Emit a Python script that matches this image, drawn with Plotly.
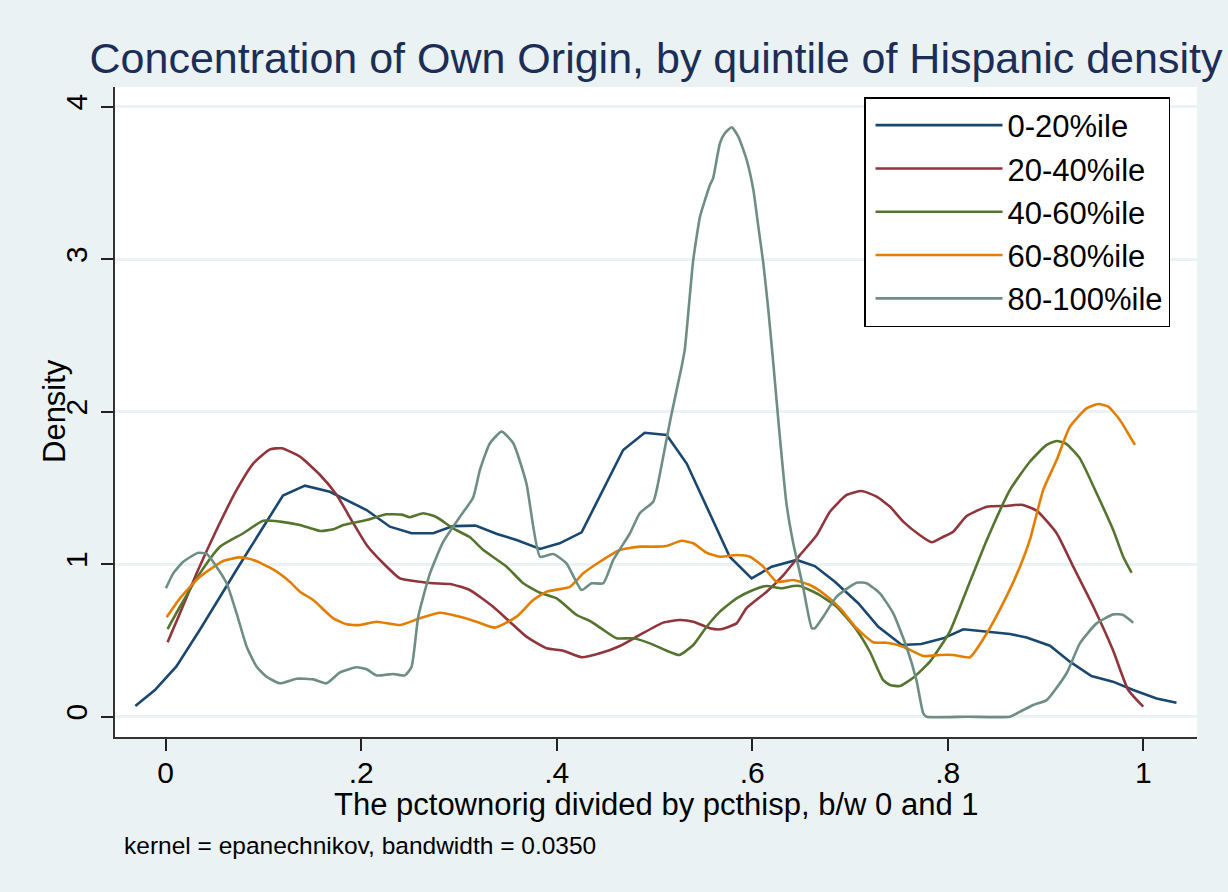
import plotly.graph_objects as go

# ---------------- data ----------------
series_names = ["0-20%ile", "20-40%ile", "40-60%ile", "60-80%ile", "80-100%ile"]

q1_x = [-0.031, -0.011, 0.011, 0.035, 0.076, 0.120, 0.1425, 0.168, 0.2056, 0.2294, 0.2516, 0.2737,
        0.294, 0.317, 0.339, 0.359, 0.383, 0.403, 0.4255, 0.4477, 0.468, 0.490, 0.5125, 0.533,
        0.553, 0.577, 0.5994, 0.620, 0.6455, 0.664, 0.6846, 0.7085, 0.729, 0.753, 0.773, 0.7955,
        0.816, 0.840, 0.8637, 0.8807, 0.9046, 0.925, 0.947, 0.969, 0.9898, 1.0137, 1.034]
q1_y = [0.07, 0.175, 0.33, 0.57, 1.0, 1.45, 1.515, 1.475, 1.355, 1.246, 1.203, 1.203,
        1.25, 1.253, 1.198, 1.159, 1.10, 1.137, 1.209, 1.487, 1.749, 1.862, 1.847, 1.66,
        1.377, 1.049, 0.907, 0.984, 1.028, 0.988, 0.885, 0.744, 0.59, 0.47, 0.477, 0.514,
        0.573, 0.557, 0.542, 0.52, 0.466, 0.361, 0.267, 0.23, 0.175, 0.12, 0.092]

q2_x = [0.002, 0.0146, 0.0317, 0.052, 0.0726, 0.0896, 0.1067, 0.1186, 0.1374, 0.158, 0.175, 0.192,
        0.2056, 0.2226, 0.2397, 0.260, 0.2737, 0.291, 0.311, 0.335, 0.352, 0.369, 0.3897, 0.4067,
        0.4255, 0.4442, 0.4647, 0.485, 0.509, 0.526, 0.5397, 0.5568, 0.567, 0.584, 0.594, 0.6148,
        0.632, 0.6488, 0.666, 0.6795, 0.6966, 0.712, 0.7273, 0.741, 0.7545, 0.7716, 0.7836, 0.7955,
        0.8056, 0.8194, 0.840, 0.860, 0.8756, 0.891, 0.9114, 0.9284, 0.949, 0.969, 0.9847, 1.0]
q2_y = [0.488, 0.678, 0.94, 1.224, 1.487, 1.66, 1.753, 1.76, 1.705, 1.585, 1.454, 1.268,
        1.126, 1.006, 0.907, 0.885, 0.875, 0.87, 0.831, 0.721, 0.623, 0.525, 0.449, 0.433,
        0.39, 0.416, 0.464, 0.536, 0.617, 0.634, 0.623, 0.58, 0.573, 0.612, 0.711, 0.82,
        0.929, 1.06, 1.19, 1.344, 1.454, 1.48, 1.443, 1.377, 1.279, 1.19, 1.144, 1.18,
        1.213, 1.316, 1.377, 1.382, 1.39, 1.351, 1.203, 0.984, 0.721, 0.437, 0.175, 0.066]

q3_x = [0.002, 0.0146, 0.035, 0.0556, 0.0794, 0.0998, 0.117, 0.1374, 0.158, 0.1715, 0.1817, 0.2056,
        0.226, 0.2414, 0.2499, 0.2635, 0.2772, 0.294, 0.311, 0.325, 0.3488, 0.3658, 0.383, 0.400,
        0.4204, 0.434, 0.4477, 0.4613, 0.4783, 0.4954, 0.5125, 0.5254, 0.5397, 0.5534, 0.567, 0.584,
        0.601, 0.6148, 0.630, 0.642, 0.6488, 0.669, 0.6864, 0.7068, 0.7204, 0.734, 0.741, 0.751,
        0.7647, 0.7818, 0.802, 0.8194, 0.840, 0.8637, 0.884, 0.9012, 0.9114, 0.9216, 0.9352, 0.9523,
        0.9693, 0.9795, 0.9881]
q3_y = [0.575, 0.721, 0.94, 1.115, 1.203, 1.285, 1.279, 1.257, 1.218, 1.229, 1.257, 1.29,
        1.327, 1.325, 1.308, 1.334, 1.308, 1.235, 1.178, 1.093, 0.984, 0.875, 0.813, 0.776,
        0.667, 0.628, 0.569, 0.514, 0.514, 0.481, 0.433, 0.405, 0.47, 0.59, 0.689, 0.776,
        0.831, 0.857, 0.842, 0.857, 0.857, 0.798, 0.721, 0.569, 0.426, 0.24, 0.208, 0.201,
        0.256, 0.361, 0.557, 0.831, 1.159, 1.487, 1.672, 1.782, 1.808, 1.788, 1.694, 1.465,
        1.224, 1.049, 0.944]

q4_x = [0.001, 0.0146, 0.035, 0.0589, 0.076, 0.0896, 0.110, 0.127, 0.1374, 0.151, 0.1715, 0.185,
        0.1988, 0.2158, 0.2397, 0.260, 0.2806, 0.301, 0.318, 0.3369, 0.359, 0.376, 0.3897, 0.4136,
        0.4272, 0.4442, 0.4647, 0.485, 0.4988, 0.5125, 0.5278, 0.5397, 0.5534, 0.567, 0.584, 0.5977,
        0.6113, 0.625, 0.642, 0.659, 0.6727, 0.690, 0.7068, 0.7238, 0.7375, 0.7545, 0.775, 0.792,
        0.8056, 0.8227, 0.840, 0.860, 0.8739, 0.884, 0.8977, 0.9114, 0.925, 0.942, 0.954, 0.9642,
        0.9761, 0.9915]
q4_y = [0.652, 0.776, 0.918, 1.021, 1.045, 1.028, 0.966, 0.885, 0.82, 0.765, 0.645, 0.606,
        0.601, 0.623, 0.601, 0.645, 0.682, 0.656, 0.623, 0.584, 0.656, 0.765, 0.82, 0.852,
        0.94, 1.016, 1.093, 1.115, 1.115, 1.12, 1.154, 1.137, 1.075, 1.049, 1.06, 1.049,
        0.984, 0.885, 0.896, 0.864, 0.809, 0.711, 0.58, 0.488, 0.485, 0.459, 0.398, 0.405,
        0.405, 0.39, 0.547, 0.787, 0.984, 1.159, 1.487, 1.683, 1.902, 2.022, 2.05, 2.033,
        1.946, 1.782]

q5_x = [0.0003, 0.0078, 0.018, 0.0334, 0.042, 0.052, 0.0624, 0.0726, 0.0829, 0.0931, 0.1033, 0.117,
        0.134, 0.151, 0.1647, 0.178, 0.1954, 0.2056, 0.2158, 0.2328, 0.2448, 0.2516, 0.2584, 0.2704,
        0.284, 0.301, 0.3146, 0.3215, 0.3317, 0.3437, 0.3556, 0.369, 0.383, 0.3965, 0.410, 0.4255,
        0.4357, 0.4477, 0.4579, 0.475, 0.485, 0.4988, 0.5023, 0.5166, 0.5278, 0.531, 0.5364, 0.5397,
        0.5466, 0.5517, 0.5568, 0.560, 0.567, 0.572, 0.579, 0.5858, 0.5944, 0.6012, 0.6063, 0.6114,
        0.6165, 0.6216, 0.6267, 0.635, 0.642, 0.652, 0.661, 0.664, 0.6727, 0.6864, 0.7068, 0.717,
        0.7306, 0.7443, 0.7578, 0.768, 0.775, 0.7784, 0.82, 0.8637, 0.8739, 0.8875, 0.9012, 0.9216,
        0.9352, 0.9523, 0.9693, 0.9795, 0.9898]
q5_y = [0.842, 0.94, 1.016, 1.075, 1.067, 0.984, 0.875, 0.678, 0.459, 0.328, 0.262, 0.219,
        0.249, 0.245, 0.219, 0.289, 0.324, 0.311, 0.271, 0.28, 0.271, 0.328, 0.656, 0.94,
        1.148, 1.311, 1.438, 1.618, 1.793, 1.869, 1.793, 1.531, 1.049, 1.067, 1.006, 0.831,
        0.875, 0.875, 1.028, 1.203, 1.334, 1.41, 1.487, 1.957, 2.295, 2.405, 2.776, 2.995,
        3.279, 3.388, 3.487, 3.53, 3.76, 3.826, 3.865, 3.803, 3.65, 3.454, 3.213, 2.973,
        2.667, 2.317, 1.946, 1.40, 1.137, 0.852, 0.58, 0.58, 0.656, 0.787, 0.879, 0.875,
        0.809, 0.678, 0.459, 0.24, 0.022, 0.0, 0.0, 0.0, 0.033, 0.077, 0.109, 0.285,
        0.481, 0.612, 0.671, 0.667, 0.616]

x_tickvals = [0, 0.2, 0.4, 0.6, 0.8, 1.0]
x_ticktext = ["0", ".2", ".4", ".6", ".8", "1"]
y_tickvals = [0, 1, 2, 3, 4]
y_ticktext = ["0", "1", "2", "3", "4"]

title_text = "Concentration of Own Origin, by quintile of Hispanic density"
x_title = "The pctownorig divided by pcthisp, b/w 0 and 1"
y_title = "Density"
note_text = "kernel = epanechnikov, bandwidth = 0.0350"

# ---------------- styling ----------------
colors = ["#1A476F", "#90353B", "#55752F", "#E37E00", "#6E8E84"]
line_shapes = ["linear", "spline", "spline", "spline", "spline"]
BG = "#EAF2F3"
FONT = "Liberation Sans, Arial, Helvetica, sans-serif"

W, H = 1228, 892
L, R, T, B = 115, 31, 87, 155
pw, ph = W - L - R, H - T - B

fig = go.Figure()
all_x = [q1_x, q2_x, q3_x, q4_x, q5_x]
all_y = [q1_y, q2_y, q3_y, q4_y, q5_y]
for name, xs, ys, c, shp in zip(series_names, all_x, all_y, colors, line_shapes):
    fig.add_trace(go.Scatter(x=xs, y=ys, mode="lines", name=name,
                             line=dict(color=c, width=2.6, shape=shp, smoothing=0.5)))

fig.update_layout(
    width=W, height=H,
    margin=dict(l=L, r=R, t=T, b=B, pad=0),
    paper_bgcolor=BG, plot_bgcolor="white",
    font=dict(family=FONT, color="black"),
    title=dict(text=title_text, x=0.5, xref="paper", xanchor="center",
               y=1 - 58 / H, yref="container", yanchor="middle",
               font=dict(size=43, color="#1C2D57", family=FONT)),
    showlegend=True,
    legend=dict(x=(864 - L) / pw, y=(H - B - 97) / ph, xanchor="left", yanchor="top",
                bgcolor="white", bordercolor="black", borderwidth=1.5,
                font=dict(size=31, color="black", family=FONT),
                itemwidth=127, indentation=5, tracegroupgap=0),
    xaxis=dict(range=[-0.0518, 1.055], tickvals=x_tickvals, ticktext=x_ticktext,
               ticks="outside", ticklen=12, tickwidth=1.5, tickcolor="#222",
               showline=True, linecolor="#333", linewidth=1.5, mirror=False,
               showgrid=False, zeroline=False, ticklabelstandoff=-4,
               tickfont=dict(size=30, color="black", family=FONT)),
    yaxis=dict(range=[-0.133, 4.129], tickvals=y_tickvals, ticktext=y_ticktext,
               tickangle=-90,
               ticks="outside", ticklen=12, tickwidth=1.5, tickcolor="#222",
               showline=True, linecolor="#333", linewidth=1.5, mirror=False,
               showgrid=True, gridcolor=BG, gridwidth=2.5, zeroline=False,
               ticklabelstandoff=2,
               tickfont=dict(size=30, color="black", family=FONT)),
    annotations=[
        dict(text=x_title, xref="paper", yref="paper", x=0.5, y=(H - B - 804) / ph,
             xanchor="center", yanchor="middle", showarrow=False,
             font=dict(size=31, color="black", family=FONT)),
        dict(text=y_title, xref="paper", yref="paper", x=(54 - L) / pw, y=(H - B - 411) / ph,
             xanchor="center", yanchor="middle", textangle=-90, showarrow=False,
             font=dict(size=31, color="black", family=FONT)),
        dict(text=note_text, xref="paper", yref="paper", x=(122 - L) / pw, y=(H - B - 845) / ph,
             xanchor="left", yanchor="middle", showarrow=False,
             font=dict(size=24.5, color="black", family=FONT)),
    ],
)

fig.write_html("out.html")
